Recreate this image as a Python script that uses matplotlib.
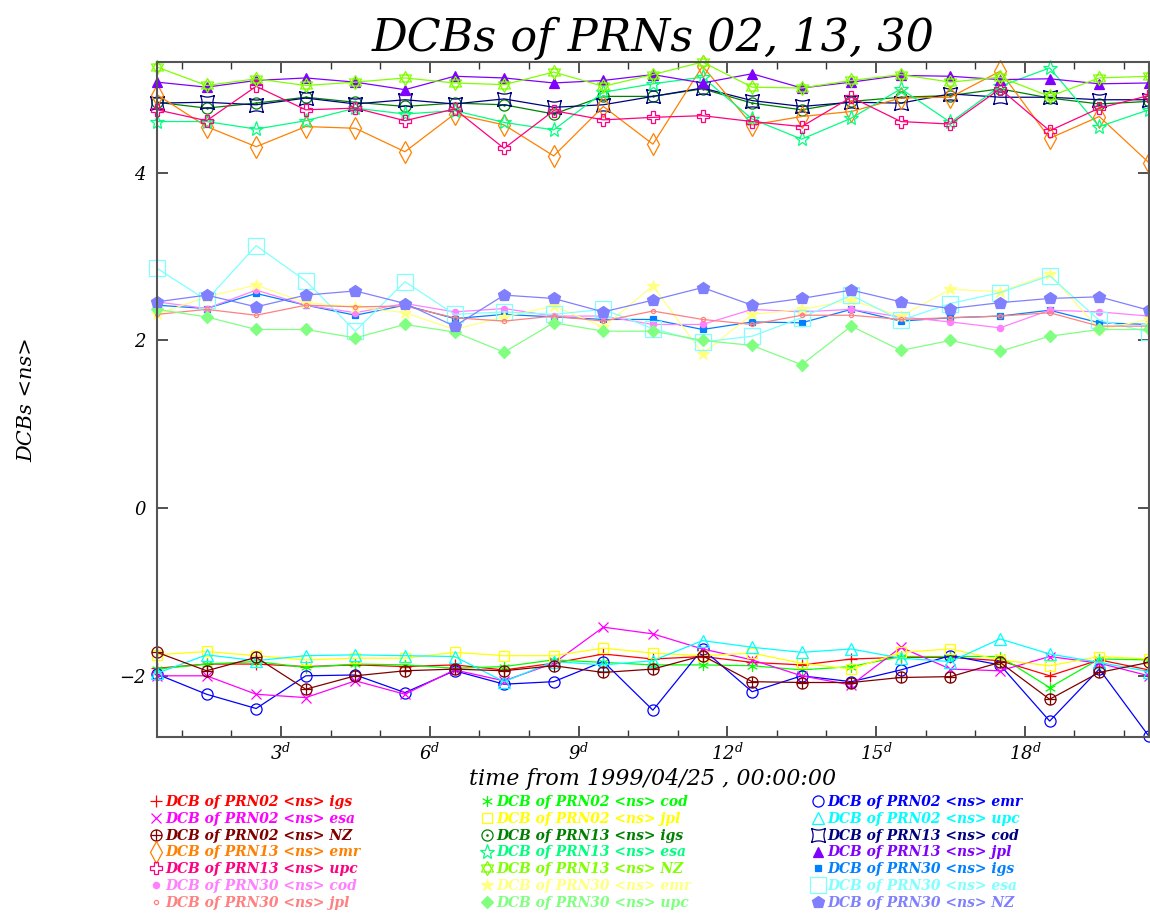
import numpy as np
import matplotlib
matplotlib.use('Agg')
import matplotlib.pyplot as plt
from matplotlib.path import Path
from matplotlib.lines import Line2D

plt.rcParams['font.family'] = ['DejaVu Serif']
plt.rcParams['font.style'] = 'italic'
plt.rcParams['mathtext.fontset'] = 'custom'
plt.rcParams['mathtext.rm'] = 'DejaVu Serif:italic'
plt.rcParams['mathtext.it'] = 'DejaVu Serif:italic'

# days from 1999/04/25 00:00:00 (daily solutions at noon)
days = [0.5, 1.5, 2.5, 3.5, 4.5, 5.5, 6.5, 7.5, 8.5, 9.5, 10.5,
        11.5, 12.5, 13.5, 14.5, 15.5, 16.5, 17.5, 18.5, 19.5, 20.5]

# PRN02
prn02_igs = [-1.91, -1.86, -1.86, -1.89, -1.87, -1.89, -1.87, -1.93, -1.85, -1.74, -1.80,
             -1.77, -1.84, -1.87, -1.80, -1.78, -1.78, -1.82, -2.00, -1.81, -1.93]
prn02_cod = [-1.92, -1.86, -1.83, -1.90, -1.86, -1.87, -1.91, -1.89, -1.81, -1.84, -1.87,
             -1.87, -1.88, -1.93, -1.89, -1.77, -1.77, -1.77, -2.14, -1.80, -1.81]
prn02_emr = [-1.98, -2.22, -2.39, -2.00, -1.99, -2.20, -1.94, -2.10, -2.07, -1.83, -2.41,
             -1.68, -2.19, -2.00, -2.07, -1.93, -1.76, -1.87, -2.54, -1.92, -2.72]
prn02_esa = [-2.00, -2.00, -2.22, -2.26, -2.06, -2.22, -1.93, -2.06, -1.85, -1.42, -1.50,
             -1.68, -1.81, -2.00, -2.11, -1.66, -1.92, -1.94, -1.77, -1.85, -2.00]
prn02_jpl = [-1.75, -1.71, -1.76, -1.81, -1.79, -1.79, -1.72, -1.76, -1.76, -1.67, -1.73,
             -1.76, -1.73, -1.85, -1.92, -1.72, -1.68, -1.81, -1.88, -1.77, -1.80]
prn02_upc = [-1.97, -1.75, -1.82, -1.76, -1.75, -1.76, -1.77, -2.07, -1.83, -1.87, -1.82,
             -1.58, -1.66, -1.72, -1.68, -1.79, -1.83, -1.56, -1.74, -1.84, -1.95]
prn02_nz = [-1.72, -1.94, -1.78, -2.16, -2.00, -1.94, -1.92, -1.94, -1.88, -1.96, -1.92,
            -1.76, -2.07, -2.08, -2.08, -2.02, -2.01, -1.84, -2.28, -1.96, -1.84]

# PRN13
prn13_igs = [4.84, 4.77, 4.83, 4.90, 4.84, 4.79, 4.83, 4.81, 4.70, 4.91, 4.91,
             5.00, 4.83, 4.75, 4.85, 4.90, 4.92, 5.00, 4.89, 4.82, 4.85]
prn13_cod = [4.83, 4.84, 4.81, 4.89, 4.82, 4.87, 4.82, 4.88, 4.78, 4.81, 4.91,
             5.01, 4.86, 4.79, 4.84, 4.83, 4.94, 4.90, 4.90, 4.87, 4.87]
prn13_emr = [4.93, 4.55, 4.31, 4.55, 4.53, 4.25, 4.70, 4.57, 4.20, 4.79, 4.34,
             5.27, 4.57, 4.67, 4.73, 4.89, 4.90, 5.21, 4.41, 4.67, 4.12]
prn13_esa = [4.61, 4.61, 4.52, 4.62, 4.77, 4.70, 4.74, 4.60, 4.51, 4.96, 5.06,
             5.14, 4.64, 4.40, 4.65, 5.00, 4.60, 5.03, 5.25, 4.55, 4.75]
prn13_jpl = [5.08, 5.02, 5.10, 5.13, 5.08, 4.99, 5.15, 5.13, 5.07, 5.10, 5.17,
             5.07, 5.18, 5.01, 5.08, 5.16, 5.15, 5.11, 5.12, 5.06, 5.07]
prn13_upc = [4.75, 4.62, 5.03, 4.75, 4.77, 4.62, 4.76, 4.29, 4.74, 4.63, 4.66,
             4.68, 4.61, 4.55, 4.90, 4.61, 4.58, 5.00, 4.50, 4.77, 4.92]
prn13_nz = [5.26, 5.04, 5.12, 5.04, 5.08, 5.13, 5.07, 5.05, 5.20, 5.03, 5.17,
            5.32, 5.02, 5.01, 5.10, 5.17, 5.08, 5.14, 4.91, 5.13, 5.15]

# PRN30
prn30_igs = [2.42, 2.38, 2.56, 2.42, 2.30, 2.42, 2.26, 2.31, 2.28, 2.25, 2.25,
             2.13, 2.22, 2.21, 2.37, 2.23, 2.27, 2.29, 2.36, 2.21, 2.19]
prn30_cod = [2.46, 2.38, 2.60, 2.42, 2.33, 2.44, 2.34, 2.38, 2.29, 2.29, 2.19,
             2.19, 2.37, 2.34, 2.37, 2.28, 2.22, 2.15, 2.36, 2.34, 2.29]
prn30_emr = [2.31, 2.52, 2.66, 2.45, 2.40, 2.33, 2.13, 2.28, 2.41, 2.16, 2.65,
             1.84, 2.31, 2.37, 2.48, 2.29, 2.61, 2.58, 2.79, 2.13, 2.25]
prn30_esa = [2.86, 2.48, 3.13, 2.71, 2.11, 2.70, 2.31, 2.34, 2.31, 2.37, 2.14,
             1.98, 2.05, 2.27, 2.54, 2.24, 2.44, 2.57, 2.77, 2.24, 2.10]
prn30_jpl = [2.31, 2.37, 2.30, 2.42, 2.40, 2.41, 2.27, 2.23, 2.29, 2.23, 2.35,
             2.25, 2.19, 2.30, 2.30, 2.25, 2.27, 2.29, 2.33, 2.17, 2.17]
prn30_upc = [2.37, 2.28, 2.13, 2.13, 2.03, 2.19, 2.10, 1.86, 2.21, 2.11, 2.11,
             2.00, 1.94, 1.71, 2.17, 1.88, 2.00, 1.87, 2.05, 2.13, 2.13]
prn30_nz = [2.46, 2.54, 2.40, 2.54, 2.59, 2.44, 2.17, 2.54, 2.50, 2.34, 2.48,
            2.63, 2.42, 2.50, 2.60, 2.46, 2.38, 2.45, 2.50, 2.52, 2.36]

x_ticks = [3, 6, 9, 12, 15, 18]
y_ticks = [-2, 0, 2, 4]


# ---- marker shapes ----
def circle_plus():
    return Path.make_compound_path(
        Path.unit_circle(),
        Path([[-1, 0], [1, 0]], [Path.MOVETO, Path.LINETO]),
        Path([[0, -1], [0, 1]], [Path.MOVETO, Path.LINETO]))


def circle_dot():
    return Path.make_compound_path(Path.unit_circle(), Path.circle((0, 0), 0.12))


def asterisk():
    segs = []
    for ang in (90, 30, 150):
        a = np.radians(ang)
        c, s = np.cos(a), np.sin(a)
        segs.append(Path([[-c, -s], [c, s]], [Path.MOVETO, Path.LINETO]))
    return Path.make_compound_path(*segs)


def concave_square():
    corners = [(-1, -1), (1, -1), (1, 1), (-1, 1)]
    t = np.linspace(0, 1, 12)
    pts = []
    for k in range(4):
        a = np.array(corners[k], float)
        b = np.array(corners[(k + 1) % 4], float)
        mid = (a + b) / 2
        inward = -mid / np.linalg.norm(mid)
        for tt in t[:-1]:
            pts.append(a + (b - a) * tt + inward * 0.22 * np.sin(np.pi * tt))
    pts.append(pts[0])
    return Path(pts, closed=True)


def star_of_david():
    up = Path([[0, 1], [-0.866, -0.5], [0.866, -0.5], [0, 1]], closed=True)
    dn = Path([[0, -1], [-0.866, 0.5], [0.866, 0.5], [0, -1]], closed=True)
    return Path.make_compound_path(up, dn)


# label, values, color, marker, size, filled
series = [
    ('DCB of PRN02 <ns> igs', prn02_igs, '#ff0000', '+', 9, False),
    ('DCB of PRN02 <ns> cod', prn02_cod, '#00ff00', asterisk(), 8, False),
    ('DCB of PRN02 <ns> emr', prn02_emr, '#0000ff', 'o', 8, False),
    ('DCB of PRN02 <ns> esa', prn02_esa, '#ff00ff', 'x', 7, False),
    ('DCB of PRN02 <ns> jpl', prn02_jpl, '#ffff00', 's', 7, False),
    ('DCB of PRN02 <ns> upc', prn02_upc, '#00ffff', '^', 8, False),
    ('DCB of PRN02 <ns> NZ', prn02_nz, '#800000', circle_plus(), 8, False),
    ('DCB of PRN13 <ns> igs', prn13_igs, '#008000', circle_dot(), 8, False),
    ('DCB of PRN13 <ns> cod', prn13_cod, '#000080', concave_square(), 10, False),
    ('DCB of PRN13 <ns> emr', prn13_emr, '#ff8000', 'd', 11, False),
    ('DCB of PRN13 <ns> esa', prn13_esa, '#00ff80', '*', 11, False),
    ('DCB of PRN13 <ns> jpl', prn13_jpl, '#8000ff', '^', 7, True),
    ('DCB of PRN13 <ns> upc', prn13_upc, '#ff0080', 'P', 8, False),
    ('DCB of PRN13 <ns> NZ', prn13_nz, '#80ff00', star_of_david(), 10, False),
    ('DCB of PRN30 <ns> igs', prn30_igs, '#0080ff', 's', 4, True),
    ('DCB of PRN30 <ns> cod', prn30_cod, '#ff80ff', 'o', 4.5, True),
    ('DCB of PRN30 <ns> emr', prn30_emr, '#ffff80', '*', 9, True),
    ('DCB of PRN30 <ns> esa', prn30_esa, '#80ffff', 's', 12, False),
    ('DCB of PRN30 <ns> jpl', prn30_jpl, '#ff8080', 'o', 3, False),
    ('DCB of PRN30 <ns> upc', prn30_upc, '#80ff80', 'D', 6, True),
    ('DCB of PRN30 <ns> NZ', prn30_nz, '#8080ff', 'p', 9, True),
]

fig = plt.figure(figsize=(11.5, 9.16), dpi=100)
ax = fig.add_axes([0.1365, 0.1954, 0.8625, 0.7369])

handles = []
for label, vals, col, mk, ms, filled in series:
    fc = col if filled else 'none'
    ax.plot(days, vals, color=col, lw=0.9, marker=mk, markersize=ms,
            markerfacecolor=fc, markeredgecolor=col, markeredgewidth=0.9, clip_on=False)
    handles.append(Line2D([], [], linestyle='none', marker=mk, markersize=ms,
                          markerfacecolor=fc, markeredgecolor=col, markeredgewidth=0.9,
                          color=col, label=label))

ax.set_xlim(0.5, 20.5)
ax.set_ylim(-2.73, 5.32)
ax.set_xticks(x_ticks)
ax.set_xticklabels(['$%d^{d}$' % d for d in x_ticks])
ax.set_xticks(range(1, 21), minor=True)
ax.set_yticks(y_ticks)
ax.tick_params(axis='both', which='major', direction='in', length=8, width=1.2,
               top=True, right=True, labelsize=13, pad=4, colors='#333333',
               labelcolor='black')
ax.tick_params(axis='y', which='major', pad=8)
ax.tick_params(axis='x', which='minor', direction='in', length=5, width=1.0,
               top=True, colors='#333333')
for sp in ax.spines.values():
    sp.set_color('#555555')
    sp.set_linewidth(1.5)

ax.set_title('DCBs of PRNs 02, 13, 30', fontsize=32, pad=8)
ax.set_xlabel('time from 1999/04/25 , 00:00:00', fontsize=16, labelpad=3)
ax.set_ylabel('DCBs <ns>', fontsize=15, labelpad=60)

# legend: three columns, entries ordered row-wise
col_x = [0.1305, 0.4186, 0.7064]
for j in range(3):
    hs = handles[j::3]
    leg = fig.legend(handles=hs, loc='upper left', bbox_to_anchor=(col_x[j], 0.132),
                     frameon=False, fontsize=10, handlelength=0.8, handletextpad=0.3,
                     labelspacing=0.2, borderpad=0, borderaxespad=0)
    for txt, h in zip(leg.get_texts(), hs):
        txt.set_color(h.get_color())
        txt.set_fontweight('bold')

fig.savefig('out.png', dpi=100)
